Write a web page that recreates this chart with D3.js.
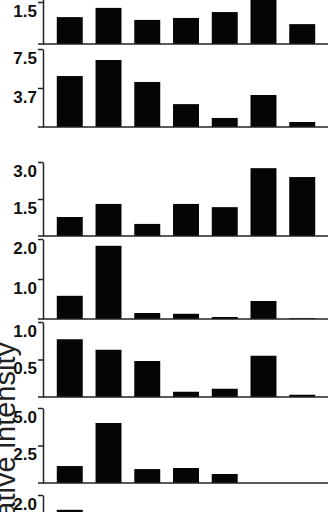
<!DOCTYPE html>
<html>
<head>
<meta charset="utf-8">
<script src="https://cdn.jsdelivr.net/npm/d3@7"></script>
<style>
  body { margin: 0; background: #fff; }
  svg { display: block; }
</style>
</head>
<body>
<div id="chart"></div>
<script>
const categories = ["1", "2", "3", "4", "5", "6", "7"];

const panel1 = [0.96, 1.29, 0.86, 0.93, 1.14, 1.75, 0.71];
const panel2 = [4.9, 6.44, 4.33, 2.2, 0.87, 3.08, 0.48];
const panel3 = [0.77, 1.3, 0.49, 1.3, 1.17, 2.75, 2.39];
const panel4 = [0.58, 1.83, 0.15, 0.13, 0.05, 0.45, 0.02];
const panel5 = [0.77, 0.63, 0.48, 0.07, 0.11, 0.55, 0.03];
const panel6 = [1.13, 4.0, 0.93, 1.0, 0.6, 0, 0];
const panel7 = [1.63, 0.5, 0.3, 0.3, 0.2, 0.4, 0.1];

const maxValues = [3.0, 7.5, 3.0, 2.0, 1.0, 5.0, 2.0];
const tickLabels = [
  ["1.5", "3.0"],
  ["3.7", "7.5"],
  ["1.5", "3.0"],
  ["1.0", "2.0"],
  ["0.5", "1.0"],
  ["2.5", "5.0"],
  ["1.0", "2.0"]
];
const yTitle = "Relative intensity";

// layout: top / baseline of every panel in pixels
const panelTops = [-40, 49, 162, 239, 322, 408, 495];
const panelBases = [44, 127, 236, 319, 397, 483, 575];

const W = 328, H = 512;
const axisX = 43;

const svg = d3.select("#chart").append("svg")
  .attr("width", W).attr("height", H);

const x = d3.scaleBand()
  .domain(categories)
  .range([44, 328])
  .padding(0.33);

const allPanels = [panel1, panel2, panel3, panel4, panel5, panel6, panel7];

allPanels.forEach((vals, i) => {
  const max = maxValues[i];
  const y = d3.scaleLinear().domain([0, max]).range([panelBases[i], panelTops[i]]);
  const g = svg.append("g");

  g.selectAll("rect")
    .data(vals)
    .enter()
    .append("rect")
    .attr("x", (d, j) => x(categories[j]))
    .attr("width", x.bandwidth())
    .attr("y", d => y(d))
    .attr("height", d => y(0) - y(d))
    .attr("fill", "#050505");

  const ax = g.append("g")
    .attr("transform", `translate(${axisX},0)`)
    .call(d3.axisLeft(y)
      .tickValues([max / 2, max])
      .tickFormat((d, k) => tickLabels[i][k])
      .tickSize(5)
      .tickSizeOuter(0)
      .tickPadding(1));
  ax.select(".domain").attr("stroke", "#222").attr("stroke-width", 1.5);
  ax.selectAll(".tick line").attr("stroke", "#222").attr("stroke-width", 1.5);
  ax.selectAll(".tick text")
    .attr("y", 9)
    .attr("fill", "#111")
    .style("font-family", "'Liberation Sans', Arial, sans-serif")
    .style("font-weight", "bold")
    .style("font-size", "17px");

  g.append("line")
    .attr("x1", 38).attr("x2", W)
    .attr("y1", y(0)).attr("y2", y(0))
    .attr("stroke", "#222").attr("stroke-width", 1.5);
});

svg.append("text")
  .attr("transform", "translate(15,342) rotate(-90)")
  .attr("text-anchor", "end")
  .attr("fill", "#222")
  .style("font-family", "'Liberation Sans', Arial, sans-serif")
  .style("font-size", "29px")
  .text(yTitle);
</script>
</body>
</html>
